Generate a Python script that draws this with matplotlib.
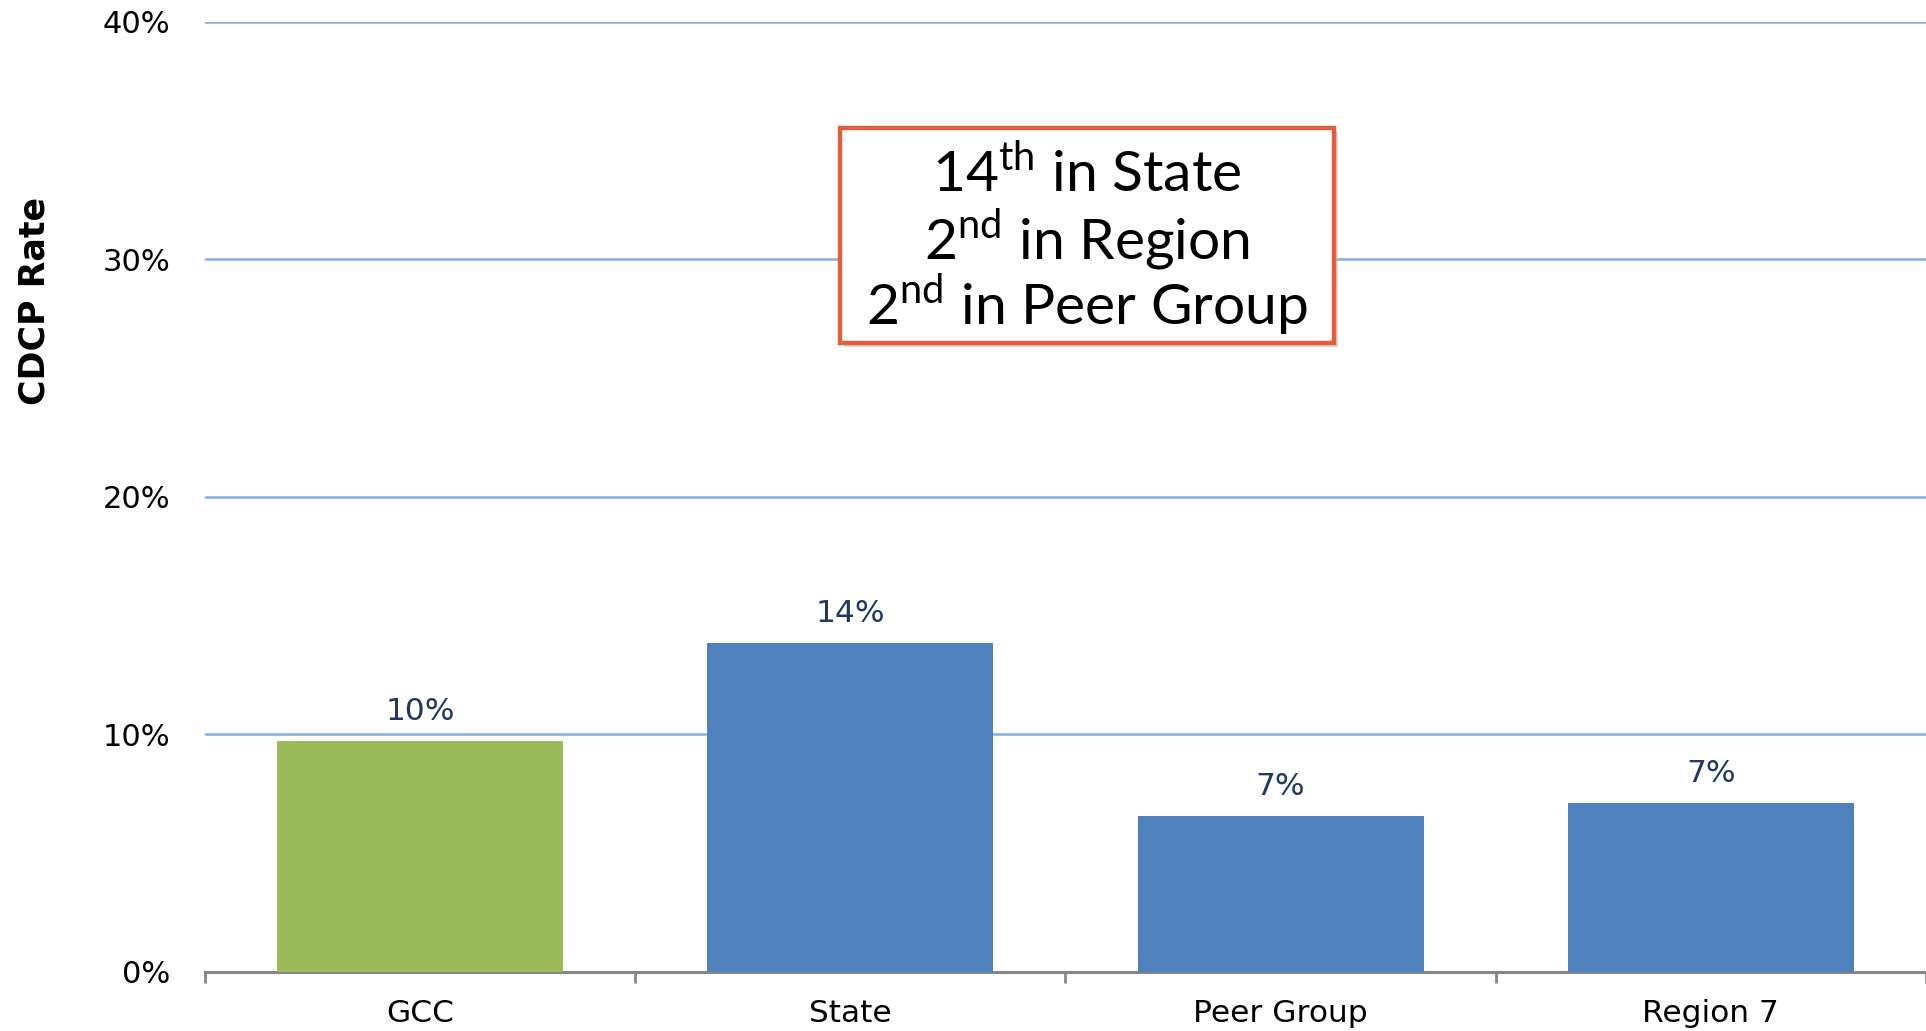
import matplotlib
matplotlib.use('Agg')
from matplotlib import pyplot as plt
from matplotlib.patches import Rectangle

categories = ['GCC', 'State', 'Peer Group', 'Region 7']
rates = [9.7, 13.85, 6.55, 7.1]
bar_colors = ['#9BBB59', '#4F81BD', '#4F81BD', '#4F81BD']
y_ticks = [0, 10, 20, 30, 40]
rank_lines = [('14', 'th', 'in State'), ('2', 'nd', 'in Region'), ('2', 'nd', 'in Peer Group')]

plt.rcParams['font.family'] = ['DejaVu Sans']
plt.rcParams['mathtext.fontset'] = 'custom'
plt.rcParams['mathtext.rm'] = 'Lato'

fig = plt.figure(figsize=(19.26, 10.31), dpi=100)
ax = fig.add_axes([0.1064, 0.0576, 0.8936, 0.9211])

xs = list(range(len(categories)))
ax.bar(xs, rates, width=0.665, color=bar_colors, zorder=3)
for x, v in zip(xs, rates):
    ax.annotate(f'{v:.0f}%', (x, v), xytext=(0, 11), textcoords='offset points',
                ha='center', va='bottom', fontsize=22.5, color='#1F3864')

ax.set_xlim(-0.5, 3.468)
ax.set_ylim(0, 40)
ax.set_yticks(y_ticks)
ax.set_yticklabels([f'{t}%' for t in y_ticks])
ax.tick_params(axis='y', length=0, pad=25, labelsize=22)
ax.grid(axis='y', color='#8DB3E2', linewidth=1.9, zorder=0)

ax.set_xticks(xs)
ax.set_xticklabels(categories)
ax.set_xticks([i - 0.5 for i in range(len(categories) + 1)], minor=True)
ax.tick_params(axis='x', which='major', length=0, pad=20, labelsize=22.5)
ax.tick_params(axis='x', which='minor', length=8, width=2, color='#868686', direction='out')

for side in ['top', 'right', 'left']:
    ax.spines[side].set_visible(False)
ax.spines['bottom'].set_color('#868686')
ax.spines['bottom'].set_linewidth(2.2)
ax.set_axisbelow(True)

fig.text(0.0177, 0.708, 'CDCP Rate', rotation=90, fontsize=25, fontweight='bold',
         ha='center', va='center')

# rank call-out box
bx0, by0, bw, bh = 0.4361, 0.6673, 0.2565, 0.2085
fig.patches.append(Rectangle((bx0 + 0.002, by0 - 0.004), bw, bh, transform=fig.transFigure,
                             facecolor='#BFBFBF', edgecolor='none', alpha=0.6, zorder=4))
fig.patches.append(Rectangle((bx0, by0), bw, bh, transform=fig.transFigure,
                             facecolor='white', edgecolor='#E0603C', linewidth=3.2, zorder=5))
line_y = [0.831, 0.768, 0.705]
for (num, sup, rest), y in zip(rank_lines, line_y):
    fig.text(bx0 + bw / 2, y, num + r'$^{\mathrm{' + sup + '}}$' + ' ' + rest,
             family='Lato', fontsize=41, ha='center', va='center', zorder=6)

fig.savefig('out.png', dpi=100)
